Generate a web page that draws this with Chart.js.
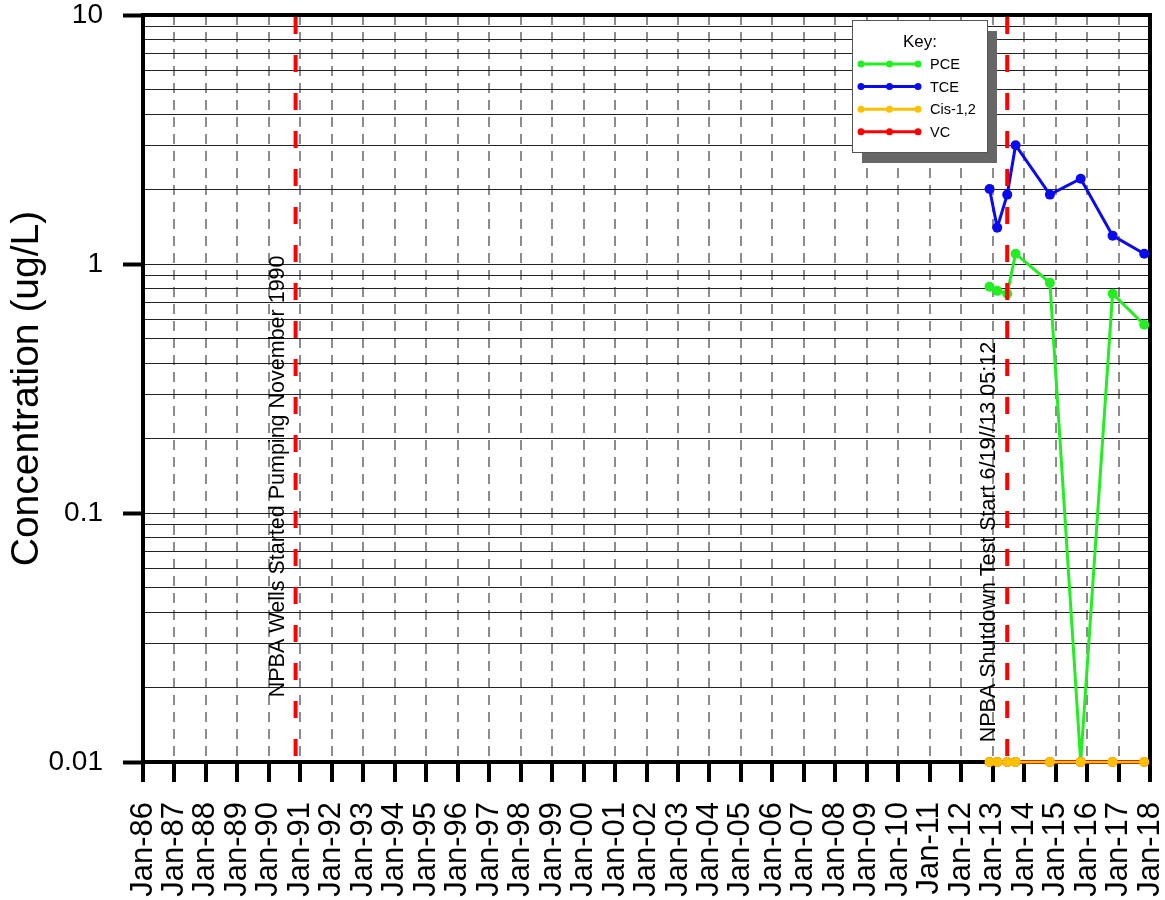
<!DOCTYPE html>
<html>
<head>
<meta charset="utf-8">
<script src="https://cdn.jsdelivr.net/npm/chart.js@4/dist/chart.umd.min.js"></script>
<style>
  html, body { margin: 0; padding: 0; background: #fff; }
  #wrap { width: 1165px; height: 900px; position: relative; }
</style>
</head>
<body>
<div id="wrap"><canvas id="chart" width="1165" height="900"></canvas></div>
<script>
// sample dates and results (ug/L)
const sampleDates = ['2012-11-26', '2013-02-23', '2013-06-19', '2013-09-24', '2014-10-27', '2015-10-19', '2016-10-24', '2017-10-26'];
const pceValues = [0.81, 0.78, 0.76, 1.1, 0.84, 0.01, 0.76, 0.57];
const tceValues = [2.0, 1.4, 1.9, 3.0, 1.9, 2.2, 1.3, 1.1];
const cisValues = [0.01, 0.01, 0.01, 0.01, 0.01, 0.01, 0.01, 0.01];
const vcValues = [0.01, 0.01, 0.01, 0.01, 0.01, 0.01, 0.01, 0.01];

const seriesNames = ['PCE', 'TCE', 'Cis-1,2', 'VC'];
const seriesColors = ['#22ee22', '#0a0aee', '#ffc000', '#ff0000'];

// x axis: Jan-86 .. Jan-18
const xTickLabels = ['Jan-86', 'Jan-87', 'Jan-88', 'Jan-89', 'Jan-90', 'Jan-91', 'Jan-92', 'Jan-93', 'Jan-94',
  'Jan-95', 'Jan-96', 'Jan-97', 'Jan-98', 'Jan-99', 'Jan-00', 'Jan-01', 'Jan-02', 'Jan-03', 'Jan-04',
  'Jan-05', 'Jan-06', 'Jan-07', 'Jan-08', 'Jan-09', 'Jan-10', 'Jan-11', 'Jan-12', 'Jan-13', 'Jan-14',
  'Jan-15', 'Jan-16', 'Jan-17', 'Jan-18'];
const yMajorTicks = [0.01, 0.1, 1, 10];
const yTickLabels = ['0.01', '0.1', '1', '10'];

// event markers
const eventDates = ['1990-11-07', '2013-06-19'];
const eventLabels = ['NPBA Wells Started Pumping November 1990', 'NPBA Shutdown Test Start 6/19//13 05:12'];
const eventLabelAt = [0.0182, 0.012];

const FONT = 'Arial, "Liberation Sans", sans-serif';

function decYear(s) {
    const d = new Date(s + 'T00:00:00Z');
    const y = d.getUTCFullYear();
    const start = Date.UTC(y, 0, 1), end = Date.UTC(y + 1, 0, 1);
    return y + (d.getTime() - start) / (end - start);
}

function toPoints(values) {
    return values.map((v, i) => ({ x: decYear(sampleDates[i]), y: v }));
}

function isMajor(v) {
    return yMajorTicks.findIndex(m => Math.abs(v / m - 1) < 1e-6);
}

function makeSet(idx, values, width, order) {
    return {
        label: seriesNames[idx],
        data: toPoints(values),
        borderColor: seriesColors[idx],
        backgroundColor: seriesColors[idx],
        pointBackgroundColor: seriesColors[idx],
        pointBorderWidth: 0,
        pointRadius: 5,
        borderWidth: width,
        tension: 0,
        clip: false,
        order: order
    };
}

// frame, event lines and key
const extras = {
    id: 'extras',
    beforeDatasetsDraw(chart) {
        const { ctx, chartArea: a } = chart;
        ctx.save();
        ctx.strokeStyle = '#000';
        ctx.lineWidth = 4;
        ctx.beginPath();
        ctx.moveTo(a.left - 2, a.top);
        ctx.lineTo(a.right, a.top);
        ctx.lineTo(a.right, a.bottom + 2);
        ctx.stroke();
        ctx.restore();
    },
    afterDatasetsDraw(chart) {
        const { ctx, chartArea: a, scales } = chart;
        ctx.save();
        eventDates.forEach((d, i) => {
            const x = scales.x.getPixelForValue(decYear(d));
            ctx.strokeStyle = '#ff0000';
            ctx.lineWidth = 4;
            ctx.setLineDash([17, 21]);
            ctx.beginPath();
            ctx.moveTo(x, a.top + 2);
            ctx.lineTo(x, a.bottom);
            ctx.stroke();
            ctx.setLineDash([]);

            const y = scales.y.getPixelForValue(eventLabelAt[i]);
            ctx.save();
            ctx.translate(x - 18, y);
            ctx.rotate(-Math.PI / 2);
            ctx.fillStyle = '#000';
            ctx.font = '21.5px ' + FONT;
            ctx.textAlign = 'left';
            ctx.textBaseline = 'middle';
            ctx.fillText(eventLabels[i], 0, 0);
            ctx.restore();
        });
        ctx.restore();
    },
    afterDraw(chart) {
        const ctx = chart.ctx;
        const bx = 852, by = 20, bw = 135, bh = 132;
        ctx.save();
        ctx.fillStyle = '#666';
        ctx.fillRect(bx + 10, by + 11, bw, bh);
        ctx.fillStyle = '#fff';
        ctx.fillRect(bx, by, bw, bh);
        ctx.strokeStyle = '#555';
        ctx.lineWidth = 1;
        ctx.strokeRect(bx + 0.5, by + 0.5, bw, bh);

        ctx.fillStyle = '#000';
        ctx.font = '17px ' + FONT;
        ctx.textAlign = 'center';
        ctx.textBaseline = 'middle';
        ctx.fillText('Key:', 920, 42);

        ctx.font = '14.5px ' + FONT;
        ctx.textAlign = 'left';
        seriesNames.forEach((name, i) => {
            const y = 64 + i * 22.6;
            ctx.strokeStyle = seriesColors[i];
            ctx.fillStyle = seriesColors[i];
            ctx.lineWidth = 3;
            ctx.beginPath();
            ctx.moveTo(861, y);
            ctx.lineTo(918, y);
            ctx.stroke();
            [861, 889.5, 918].forEach(px => {
                ctx.beginPath();
                ctx.arc(px, y, 3.5, 0, Math.PI * 2);
                ctx.fill();
            });
            ctx.fillStyle = '#000';
            ctx.fillText(name, 930, y + 1);
        });
        ctx.restore();
    }
};

new Chart(document.getElementById('chart'), {
    type: 'line',
    data: {
        datasets: [
            makeSet(2, cisValues, 2.5, 0),
            makeSet(3, vcValues, 3.5, 1),
            makeSet(0, pceValues, 3, 2),
            makeSet(1, tceValues, 3, 3)
        ]
    },
    options: {
        responsive: false,
        animation: false,
        events: [],
        layout: { padding: { top: 15, right: 15, left: 0, bottom: 0 } },
        plugins: { legend: { display: false }, tooltip: { enabled: false } },
        scales: {
            x: {
                type: 'linear',
                min: 1986,
                max: 2018,
                afterFit(scale) {
                    scale.height = 138;
                    scale.paddingLeft = 0;
                    scale.paddingRight = 0;
                },
                afterBuildTicks(scale) {
                    scale.ticks = xTickLabels.map((_, i) => ({ value: 1986 + i }));
                },
                ticks: {
                    autoSkip: false,
                    maxRotation: 90,
                    minRotation: 90,
                    padding: 20,
                    color: '#000',
                    font: { family: FONT, size: 31 },
                    callback: (v, i) => xTickLabels[i]
                },
                grid: {
                    color: '#8c8c8c',
                    lineWidth: 2,
                    drawTicks: true,
                    tickLength: 20,
                    tickColor: '#000',
                    tickWidth: 4
                },
                border: { display: true, color: '#000', width: 4, dash: [10, 7] }
            },
            y: {
                type: 'logarithmic',
                min: 0.01,
                max: 10,
                afterFit(scale) {
                    scale.width = 143;
                    scale.paddingTop = 0;
                    scale.paddingBottom = 0;
                },
                afterBuildTicks(scale) {
                    const t = [];
                    for (let i = 0; i < yMajorTicks.length - 1; i++) {
                        for (let k = 1; k < 10; k++) t.push({ value: yMajorTicks[i] * k });
                    }
                    t.push({ value: yMajorTicks[yMajorTicks.length - 1] });
                    scale.ticks = t;
                },
                ticks: {
                    autoSkip: false,
                    padding: 20,
                    color: '#000',
                    font: { family: FONT, size: 28 },
                    callback: (v) => {
                        const m = isMajor(v);
                        return m >= 0 ? yTickLabels[m] : '';
                    }
                },
                grid: {
                    color: '#222',
                    lineWidth: 1,
                    tickLength: 20,
                    tickColor: (c) => (c.tick && isMajor(c.tick.value) >= 0) ? '#000' : 'rgba(0,0,0,0)',
                    tickWidth: (c) => (c.tick && isMajor(c.tick.value) >= 0) ? 4 : 0
                },
                border: { display: true, color: '#000', width: 4 },
                title: {
                    display: true,
                    text: 'Concentration (ug/L)',
                    color: '#000',
                    font: { family: FONT, size: 39 },
                    padding: { top: 4, bottom: 0 }
                }
            }
        }
    },
    plugins: [extras]
});
</script>
</body>
</html>
